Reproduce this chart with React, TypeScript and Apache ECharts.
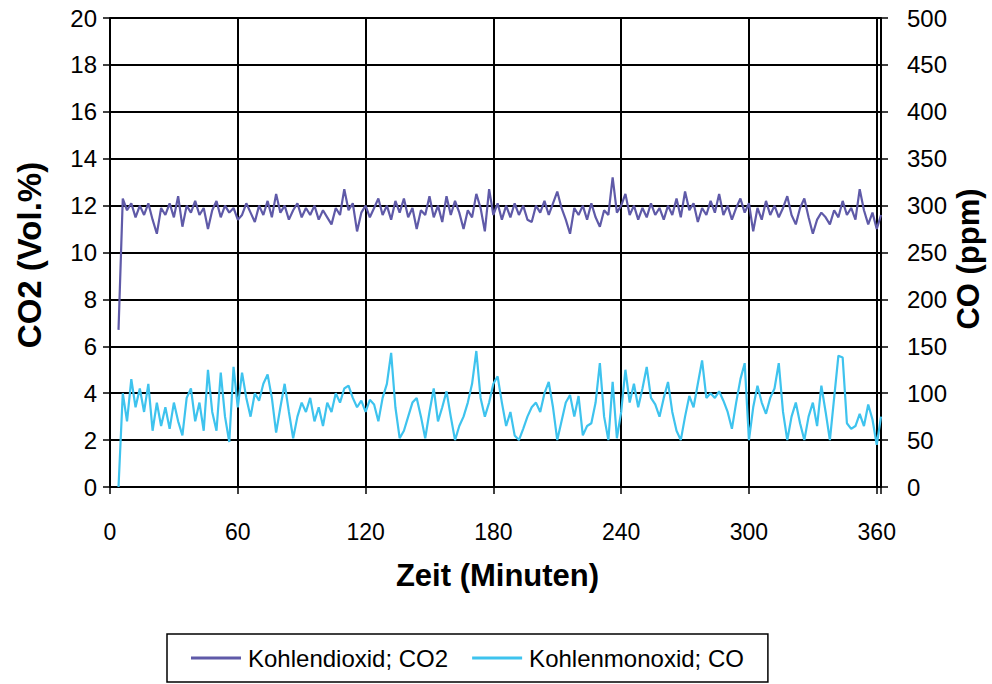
import React, { useEffect, useRef } from "react";
import * as echarts from "echarts";

// Sample times (minutes) of the recording: first sample at minute 4, then every 2 minutes
const startMinute = 4;
const stepMinutes = 2;

// Kohlendioxid CO2 (Vol.%), minutes 4 … 362
const co2: number[] = [
  6.7, 12.3, 11.8, 12.1, 11.5, 12.0, 11.6, 12.1, 11.4, 10.8,
  11.9, 11.6, 12.1, 11.5, 12.4, 11.1, 12.0, 11.7, 12.2, 11.6,
  11.9, 11.0, 11.8, 12.2, 11.5, 12.0, 11.7, 11.9, 11.4, 11.6,
  12.1, 11.7, 11.3, 12.0, 11.6, 12.2, 11.5, 12.5, 11.7, 12.0,
  11.4, 11.8, 12.1, 11.5, 11.9, 11.6, 12.0, 11.4, 11.8, 11.5,
  11.2, 11.9, 11.6, 12.7, 11.8, 12.1, 10.9, 11.7, 12.0, 11.5,
  11.9, 12.3, 11.6, 12.0, 11.4, 12.2, 11.7, 12.3, 11.5, 11.9,
  11.0, 11.8, 11.6, 12.4, 11.5, 12.0, 11.3, 12.4, 11.6, 12.2,
  11.7, 11.0, 11.8, 11.5, 12.5, 11.9, 10.9, 12.7, 11.6, 12.1,
  11.4, 12.0, 11.5, 12.1, 11.6, 12.0, 11.4, 11.3, 12.0, 11.7,
  12.2, 11.6, 12.1, 12.6, 11.9, 11.4, 10.8, 11.9, 11.6, 12.0,
  11.4, 12.1, 11.5, 11.1, 11.8, 11.6, 13.2, 11.7, 12.0, 12.5,
  11.6, 12.0, 11.4, 11.9, 11.5, 12.1, 11.6, 11.9, 11.4, 12.0,
  11.6, 12.3, 11.5, 12.6, 11.8, 12.1, 11.3, 11.9, 11.6, 12.2,
  11.7, 12.5, 11.6, 12.0, 11.4, 11.9, 12.3, 11.7, 12.1, 10.9,
  11.9, 11.4, 12.2, 11.6, 12.0, 11.5, 11.9, 12.4, 11.6, 11.2,
  11.9, 12.3, 11.5, 10.8, 11.4, 11.7, 11.5, 11.2, 11.8, 11.5,
  12.2, 11.6, 11.9, 11.4, 12.7, 11.8, 11.2, 11.7, 11.0, 11.6,
];

// Kohlenmonoxid CO (ppm), minutes 4 … 362
const co: number[] = [
  0, 100, 70, 115, 85, 105, 80, 110, 60, 90,
  65, 85, 62, 90, 70, 55, 95, 105, 70, 90,
  60, 125, 80, 60, 122, 75, 48, 128, 85, 122,
  95, 75, 100, 92, 110, 120, 95, 58, 85, 110,
  80, 52, 75, 90, 80, 95, 70, 85, 65, 90,
  80, 100, 90, 105, 108, 95, 85, 92, 80, 93,
  88, 70, 95, 110, 143, 85, 52, 60, 75, 90,
  95, 75, 52, 80, 105, 70, 85, 102, 75, 50,
  65, 75, 90, 110, 145, 95, 75, 90, 110, 118,
  90, 65, 80, 55, 50, 62, 75, 85, 90, 80,
  100, 112, 85, 50, 70, 90, 98, 75, 97, 55,
  65, 68, 90, 132, 75, 50, 112, 52, 80, 125,
  90, 110, 85, 105, 128, 95, 88, 75, 95, 112,
  80, 60, 50, 75, 97, 85, 110, 135, 95, 100,
  95, 102, 92, 80, 62, 90, 115, 132, 50, 85,
  108, 90, 78, 95, 105, 132, 80, 50, 75, 90,
  68, 50, 75, 90, 65, 108, 80, 50, 95, 140,
  138, 68, 62, 65, 78, 65, 88, 72, 45, 75,
];

const xTicks = [0, 60, 120, 180, 240, 300, 360];
const seriesNames = ["Kohlendioxid; CO2", "Kohlenmonoxid; CO"];
const axisTitles = { x: "Zeit (Minuten)", yLeft: "CO2 (Vol.%)", yRight: "CO (ppm)" };

const FONT = "'Liberation Sans', Arial, sans-serif";

export default function App() {
  const ref = useRef<HTMLDivElement>(null);

  useEffect(() => {
    if (!ref.current) return;
    const chart = echarts.init(ref.current, undefined, { renderer: "svg" });
    const minutes = co2.map((_, i) => startMinute + i * stepMinutes);
    const co2Data = co2.map((v, i) => [minutes[i], v]);
    const coData = co.map((v, i) => [minutes[i], v]);

    const gridLeft = 110;
    const gridRight = 881;
    const gridTop = 18;
    const gridBottom = 487;

    chart.setOption({
      animation: false,
      backgroundColor: "#ffffff",
      textStyle: { fontFamily: FONT, color: "#000" },
      grid: {
        left: gridLeft,
        right: 992 - gridRight,
        top: gridTop,
        bottom: 684 - gridBottom,
        containLabel: false,
      },
      xAxis: {
        type: "value",
        min: 0,
        max: 362,
        interval: 60,
        axisLine: { show: true, lineStyle: { color: "#000", width: 2 } },
        axisTick: { show: true, length: 7, lineStyle: { color: "#000", width: 1.5 } },
        axisLabel: {
          margin: 33,
          fontSize: 23,
          color: "#000",
          fontFamily: FONT,
          formatter: (v: number) => (xTicks.includes(v) ? String(v) : ""),
        },
        splitLine: { show: true, lineStyle: { color: "#000", width: 2 } },
      },
      yAxis: [
        {
          type: "value",
          min: 0,
          max: 20,
          interval: 2,
          position: "left",
          axisLine: { show: true, lineStyle: { color: "#000", width: 2 } },
          axisTick: { show: true, length: 7, lineStyle: { color: "#000", width: 1.5 } },
          axisLabel: { margin: 13, fontSize: 24, color: "#000", fontFamily: FONT },
          splitLine: { show: true, lineStyle: { color: "#000", width: 1.8 } },
        },
        {
          type: "value",
          min: 0,
          max: 500,
          interval: 50,
          position: "right",
          axisLine: { show: true, lineStyle: { color: "#000", width: 2 } },
          axisTick: { show: true, length: 7, lineStyle: { color: "#000", width: 1.5 } },
          axisLabel: { margin: 26, fontSize: 24, color: "#000", fontFamily: FONT },
          splitLine: { show: false },
        },
      ],
      legend: {
        data: seriesNames,
        left: 167,
        top: 634,
        orient: "horizontal",
        icon: "rect",
        itemWidth: 50,
        itemHeight: 3,
        itemGap: 24,
        padding: [12, 24],
        borderColor: "#000",
        borderWidth: 1.5,
        textStyle: { fontSize: 24, color: "#000", fontFamily: FONT, padding: [0, 0, 0, 2] },
      },
      graphic: [
        {
          type: "text",
          x: (gridLeft + gridRight) / 2 + 2,
          y: 575,
          style: {
            text: axisTitles.x,
            fontSize: 31,
            fontWeight: "bold",
            fontFamily: FONT,
            fill: "#000",
            textAlign: "center",
            textVerticalAlign: "middle",
          },
        },
        {
          type: "text",
          x: 29,
          y: 255,
          rotation: Math.PI / 2,
          style: {
            text: axisTitles.yLeft,
            fontSize: 33,
            fontWeight: "bold",
            fontFamily: FONT,
            fill: "#000",
            textAlign: "center",
            textVerticalAlign: "middle",
          },
        },
        {
          type: "text",
          x: 968,
          y: 259,
          rotation: Math.PI / 2,
          style: {
            text: axisTitles.yRight,
            fontSize: 31,
            fontWeight: "bold",
            fontFamily: FONT,
            fill: "#000",
            textAlign: "center",
            textVerticalAlign: "middle",
          },
        },
      ],
      series: [
        {
          name: seriesNames[0],
          type: "line",
          yAxisIndex: 0,
          data: co2Data,
          showSymbol: false,
          symbol: "none",
          lineStyle: { color: "#5f5aa8", width: 2.2 },
          itemStyle: { color: "#5f5aa8" },
          z: 3,
        },
        {
          name: seriesNames[1],
          type: "line",
          yAxisIndex: 1,
          data: coData,
          showSymbol: false,
          symbol: "none",
          lineStyle: { color: "#3ec3ee", width: 2.2 },
          itemStyle: { color: "#3ec3ee" },
          z: 3,
        },
      ],
    });

    return () => chart.dispose();
  }, []);

  return <div ref={ref} style={{ width: 992, height: 684, position: "absolute", left: 0, top: 0 }} />;
}
